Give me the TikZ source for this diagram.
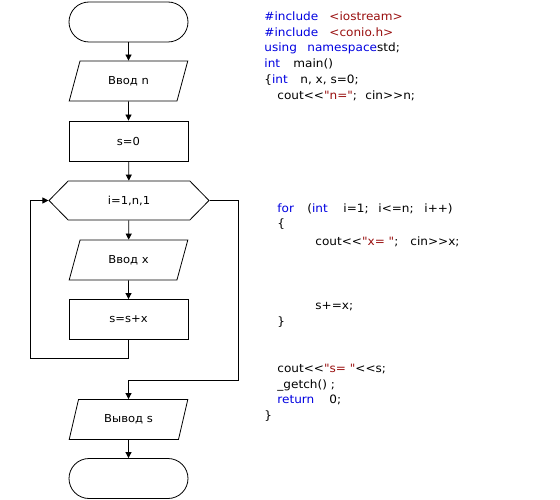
\documentclass[tikz,border=0pt]{standalone}
\usepackage{fontspec}
\setmainfont{DejaVu Sans}[Ligatures=TeXOff, FakeStretch=1.05]
\usetikzlibrary{arrows.meta, shapes.geometric, shapes.misc, shapes.symbols}
\definecolor{schluessel}{HTML}{0000E0}
\definecolor{zeichen}{HTML}{990F0F}
\newcommand{\kw}[1]{\textcolor{schluessel}{#1}}
\newcommand{\zk}[1]{\textcolor{zeichen}{#1}}
\newcommand{\feld}[2]{\makebox[#1pt][l]{#2}}

\begin{document}
\begin{tikzpicture}[x=1pt, y=-1pt, line width=0.8pt,
    font=\fontsize{11}{12}\selectfont,
    ende/.style={draw, rounded rectangle, minimum width=119pt, minimum height=40pt, inner sep=0pt},
    eingabe/.style={draw, trapezium, trapezium left angle=64.6, trapezium right angle=115.4,
                    trapezium stretches=true, minimum width=119pt, minimum height=40pt, inner sep=0pt},
    block/.style={draw, rectangle, minimum width=119pt, minimum height=40pt, inner sep=0pt},
    zyklus/.style={draw, signal, signal to=east and west, signal pointer angle=91,
                   minimum width=160pt, minimum height=39pt, inner sep=0pt},
    pfeil/.style={-{Triangle[length=6pt, width=6pt]}},
    code/.style={anchor=base west, inner sep=0pt, font=\fontsize{11.5}{12}\selectfont}]
  \useasboundingbox (0,0) rectangle (560,500);

  % Ablaufplan
  \node[ende]    (start) at (128.5,22)  {};
  \node[eingabe] (vn)    at (128.5,81)  {Ввод\ n};
  \node[block]   (s0)    at (128.5,141) {s=0};
  \node[zyklus]  (cyc)   at (129,200.5) {i=1,n,1};
  \node[eingabe] (vx)    at (128.5,260) {Ввод\ x};
  \node[block]   (sum)   at (128.5,319.5) {s=s+x};
  \node[eingabe] (vs)    at (128.5,419.5) {Вывод\ s};
  \node[ende]    (stop)  at (128.5,478.5) {};

  \coordinate (lu) at (30,358);
  \coordinate (ru) at (238,380);

  % Pfeile
  \draw[pfeil] (start) -- (vn);
  \draw[pfeil] (vn) -- (s0);
  \draw[pfeil] (s0) -- (cyc);
  \draw[pfeil] (cyc) -- (vx);
  \draw[pfeil] (vx) -- (sum);
  \draw[pfeil] (sum.south) |- (lu) |- (cyc.west);
  \draw[pfeil] (cyc.east) -| (ru) -| (vs.north);
  \draw[pfeil] (vs) -- (stop);

  % Quelltext
  \node[code] (c1)  at (264,21)  {\feld{65}{\kw{\#include}}\zk{<iostream>}};
  \node[code] (c2)  at (264,37)  {\feld{65}{\kw{\#include}}\zk{<conio.h>}};
  \node[code] (c3)  at (264,52)  {\feld{43}{\kw{using}}\kw{namespace}std;};
  \node[code] (c4)  at (264,68)  {\feld{29}{\kw{int}}main()};
  \node[code] (c5)  at (264,84)  {\feld{36}{\{\kw{int}}n, x, s=0;};
  \node[code] (c6)  at (277,100) {\feld{88}{cout<<\zk{"n="};}cin>>n;};
  \node[code] (c7)  at (277,212) {\feld{30}{\kw{for}}\feld{36}{(\kw{int}}\feld{35}{i=1;}\feld{46}{i<=n;}i++)};
  \node[code] (c8)  at (277,228) {\{};
  \node[code] (c9)  at (315,245) {\feld{95}{cout<<\zk{"x= "};}cin>>x;};
  \node[code] (c10) at (315,309) {s+=x;};
  \node[code] (c11) at (277,325) {\}};
  \node[code] (c12) at (277,372) {cout<<\zk{"s= "}<<s;};
  \node[code] (c13) at (277,388) {\_getch() ;};
  \node[code] (c14) at (277,403) {\feld{52}{\kw{return}}0;};
  \node[code] (c15) at (264,419) {\}};
\end{tikzpicture}
\end{document}
